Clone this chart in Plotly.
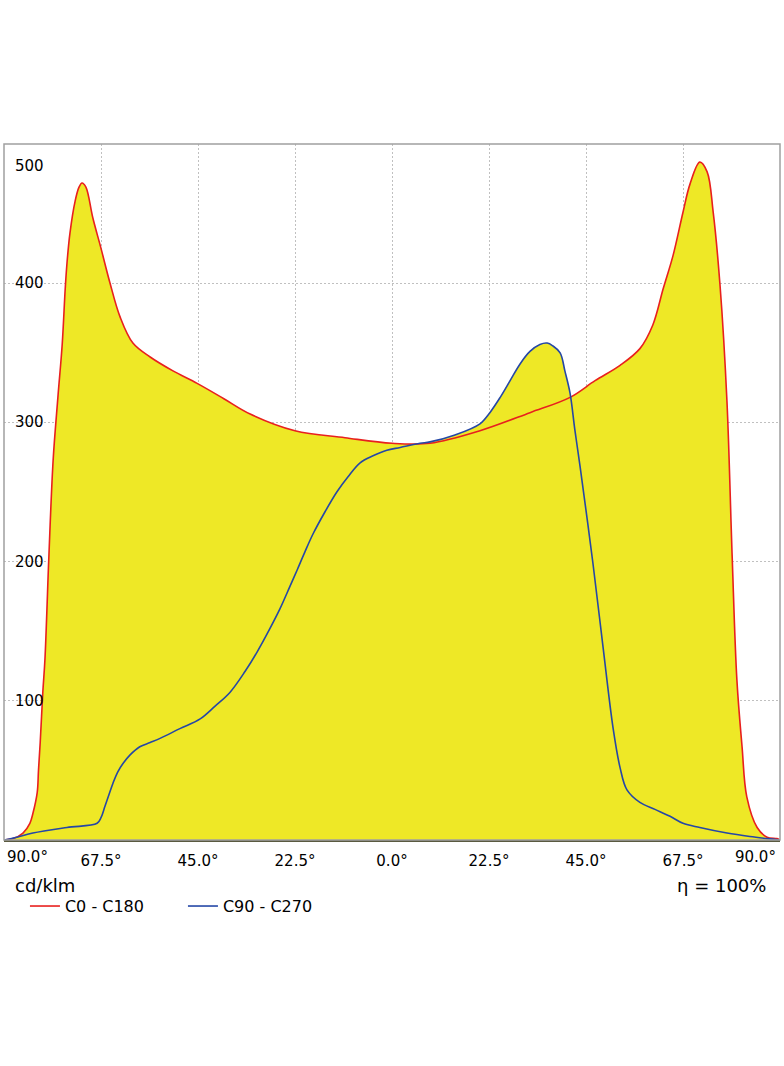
import plotly.graph_objects as go

# C0 - C180 (red) : angle in degrees (left side negative) and cd/klm
red_deg = [-90, -87.9, -85.6, -84.0, -83.3, -82.3, -82.0, -81.6, -81.0, -80.5,
           -79.6, -78.6, -77.5, -76.5, -75.8, -75.4, -74.7, -73.5, -72.6, -71.9,
           -71.0, -69.4, -67.5, -65.4, -63.1, -60.1, -56.1, -50.8, -45.2, -39.0,
           -32.9, -22.5, -10.9, 0, 8.8, 20.4, 32.0, 41.3, 47.1, 52.9,
           57.5, 60.5, 62.9, 65.2, 67.5, 69.1, 71.4, 73.1, 74.5, 76.1,
           77.7, 78.9, 80.0, 81.2, 82.3, 84.7, 87.0, 89.3, 90]
red_val = [0, 1, 5, 12, 19, 34, 50, 70, 106, 130,
           203, 273, 318, 356, 396, 414, 436, 459, 469, 472,
           469, 447, 425, 400, 376, 357, 347, 337, 328, 317,
           306, 294, 289, 285, 285, 294, 307, 318, 330, 341,
           353, 370, 396, 420, 451, 471, 487, 480, 451, 398,
           315, 204, 115, 67, 31, 9, 2, 1, 0]

# C90 - C270 (blue)
blue_deg = [-90, -87, -83.3, -75.4, -68.4, -67.5, -66.6, -65.6, -64.7, -63.6,
            -62.4, -60.8, -58.5, -56.1, -53.8, -49.2, -44.5, -41.1, -37.6, -34.1,
            -31.3, -28.3, -26.0, -23.7, -22.0, -20.2, -18.3, -15.5, -12.8, -10.2,
            -7.4, -4.4, -1.2, 1.9, 6.5, 8.8, 14.6, 20.4, 22.7, 25.1,
            27.4, 29.7, 32.0, 34.3, 36.0, 37.3, 39.0, 40.1, 41.3, 42.4,
            43.6, 46.6, 48.9, 51.3, 52.9, 54.5, 57.5, 61.0, 64.5, 67.5,
            71.4, 77.7, 83.0, 87.0, 90]
blue_val = [0, 2, 5, 9, 12, 16, 24, 33, 41, 49,
            55, 61, 67, 70, 73, 80, 87, 96, 106, 121,
            135, 152, 166, 182, 194, 207, 220, 236, 250, 261,
            271, 276, 280, 282, 285, 286, 291, 299, 307, 318,
            330, 342, 351, 356, 357, 355, 350, 337, 321, 295,
            269, 199, 140, 80, 52, 36, 27, 22, 17, 12,
            9, 5, 2.5, 1, 0]

x_tickvals = [-67.5, -45, -22.5, 0, 22.5, 45, 67.5]
x_ticktext = ["67.5°", "45.0°", "22.5°", "0.0°", "22.5°", "45.0°", "67.5°"]
y_tickvals = [100, 200, 300, 400, 500]

RED = "#E8201E"
BLUE = "#2547A6"
FILL = "#EEE826"
FONT = "DejaVu Sans"
SMOOTH = 1.0

fig = go.Figure()
# yellow area (union of both curves)
for xs, ys in [(blue_deg, blue_val), (red_deg, red_val)]:
    fig.add_trace(go.Scatter(x=xs, y=ys, mode="lines", fill="tozeroy", fillcolor=FILL,
                             line=dict(width=0, shape="spline", smoothing=SMOOTH, color=FILL),
                             showlegend=False, hoverinfo="skip"))
fig.add_trace(go.Scatter(x=red_deg, y=red_val, mode="lines", name="C0 - C180",
                         line=dict(color=RED, width=1.6, shape="spline", smoothing=SMOOTH)))
fig.add_trace(go.Scatter(x=blue_deg, y=blue_val, mode="lines", name="C90 - C270",
                         line=dict(color=BLUE, width=1.6, shape="spline", smoothing=SMOOTH)))

annotations = []
for v in y_tickvals:
    annotations.append(dict(x=0, xref="paper", xanchor="left", xshift=9, y=v, yref="y",
                            yshift=-22 if v == 500 else 0, text=str(v), showarrow=False,
                            font=dict(family=FONT, size=15, color="black")))
annotations.append(dict(x=-90, xref="x", xanchor="left", xshift=1, y=0, yref="paper",
                        yanchor="top", yshift=-6, text="90.0°", showarrow=False,
                        font=dict(family=FONT, size=15, color="black")))
annotations.append(dict(x=90, xref="x", xanchor="right", xshift=-2, y=0, yref="paper",
                        yanchor="top", yshift=-6, text="90.0°", showarrow=False,
                        font=dict(family=FONT, size=15, color="black")))
annotations.append(dict(x=0, xref="paper", xanchor="left", xshift=9, y=0, yref="paper",
                        yanchor="middle", yshift=-45, text="cd/klm", showarrow=False,
                        font=dict(family=FONT, size=18, color="black")))
annotations.append(dict(x=1, xref="paper", xanchor="right", xshift=-12, y=0, yref="paper",
                        yanchor="middle", yshift=-45, text="η = 100%", showarrow=False,
                        font=dict(family=FONT, size=18, color="black")))

fig.update_layout(
    width=784, height=1066,
    margin=dict(l=4, r=4, t=144, b=226),
    paper_bgcolor="white", plot_bgcolor="white",
    font=dict(family=FONT, size=15, color="black"),
    showlegend=True,
    legend=dict(orientation="h", x=0.027, xanchor="left", y=-0.095, yanchor="middle",
                font=dict(family=FONT, size=16, color="black"),
                entrywidth=113, entrywidthmode="pixels", bgcolor="rgba(0,0,0,0)",
                itemclick=False),
    xaxis=dict(range=[-90, 90], tickvals=x_tickvals, ticktext=x_ticktext,
               showgrid=True, gridcolor="#c0c0c0", griddash="2px,2px", gridwidth=1,
               zeroline=False, showline=True, linecolor="#5a5a40", linewidth=1.5,
               ticks="outside", ticklen=6, tickcolor="rgba(0,0,0,0)",
               tickfont=dict(family=FONT, size=15, color="black")),
    yaxis=dict(range=[0, 500], tickvals=y_tickvals, showticklabels=False,
               showgrid=True, gridcolor="#c0c0c0", griddash="2px,2px", gridwidth=1,
               zeroline=False, showline=False),
    shapes=[dict(type="rect", xref="paper", yref="paper", x0=0, x1=1, y0=0, y1=1,
                 line=dict(color="#a0a0a0", width=1.5), layer="above")],
    annotations=annotations,
)

fig.write_html("out.html")
